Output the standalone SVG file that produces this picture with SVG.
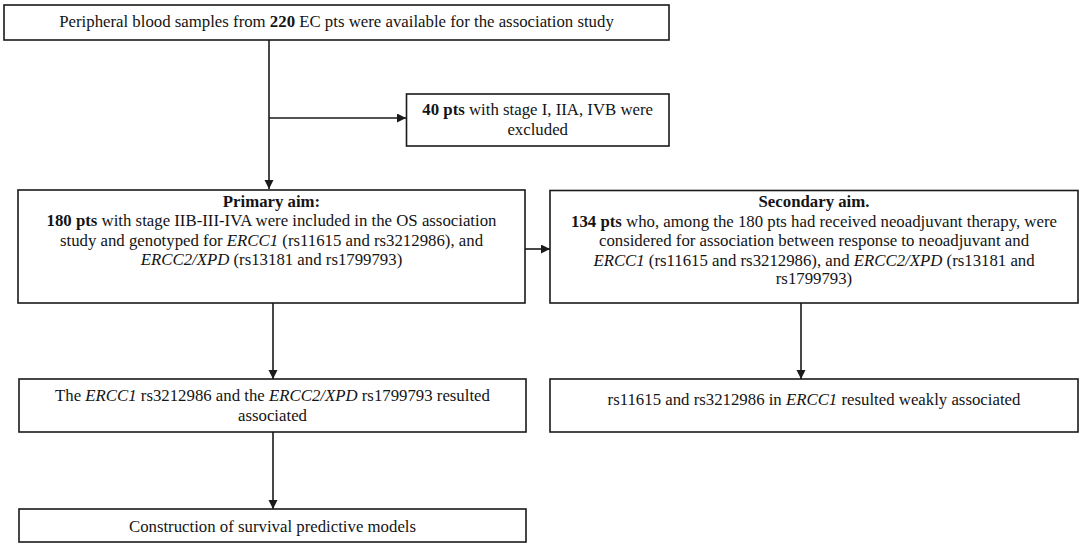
<svg xmlns="http://www.w3.org/2000/svg" width="1084" height="548" viewBox="0 0 1084 548">
<style>
.box{fill:#ffffff;stroke:#1a1a1a;stroke-width:1.6}
.t{font-family:"Liberation Serif","Times New Roman",serif;font-size:16.8px;fill:#141414;text-anchor:middle}
.b{font-weight:bold}
.i{font-style:italic}
.c{stroke:#1a1a1a;stroke-width:1.6;fill:none;marker-end:url(#ah)}
</style>
<defs>
<marker id="ah" markerUnits="userSpaceOnUse" markerWidth="10" markerHeight="10" refX="9" refY="4.5" orient="auto">
<path d="M0,0 L9,4.5 L0,9 z" fill="#1a1a1a"/>
</marker>
</defs>
<rect width="1084" height="548" fill="#ffffff"/>
<g id="connectors">
<line class="c" x1="269" y1="40" x2="269" y2="189"/>
<line class="c" x1="269" y1="118" x2="406" y2="118"/>
<line class="c" x1="525" y1="249" x2="550" y2="249"/>
<line class="c" x1="273" y1="303" x2="273" y2="379"/>
<line class="c" x1="273" y1="432" x2="273" y2="509"/>
<line class="c" x1="801" y1="303" x2="801" y2="379"/>
</g>
<g id="node-samples">
<rect class="box" x="4" y="5" width="665" height="35"/>
<text class="t" x="336.5" y="27">Peripheral blood samples from <tspan class="b">220</tspan> EC pts were available for the association study</text>
</g>
<g id="node-excluded">
<rect class="box" x="406.5" y="94" width="262.5" height="52"/>
<text class="t" x="537.7" y="115"><tspan class="b">40 pts</tspan> with stage I, IIA, IVB were</text>
<text class="t" x="537.7" y="135">excluded</text>
</g>
<g id="node-primary">
<rect class="box" x="18" y="190" width="507" height="113"/>
<text class="t b" x="271.5" y="207">Primary aim:</text>
<text class="t" x="271.5" y="226"><tspan class="b">180 pts</tspan> with stage IIB-III-IVA were included in the OS association</text>
<text class="t" x="271.5" y="245.5">study and genotyped for <tspan class="i">ERCC1</tspan> (rs11615 and rs3212986), and</text>
<text class="t" x="271.5" y="265"><tspan class="i">ERCC2/XPD</tspan> (rs13181 and rs1799793)</text>
</g>
<g id="node-secondary">
<rect class="box" x="550" y="190.5" width="528" height="112.5"/>
<text class="t b" x="814" y="207">Secondary aim.</text>
<text class="t" x="814" y="226.5"><tspan class="b">134 pts</tspan> who, among the 180 pts had received neoadjuvant therapy, were</text>
<text class="t" x="814" y="246">considered for association between response to neoadjuvant and</text>
<text class="t" x="814" y="265.5"><tspan class="i">ERCC1</tspan> (rs11615 and rs3212986), and <tspan class="i">ERCC2/XPD</tspan> (rs13181 and</text>
<text class="t" x="814" y="284">rs1799793)</text>
</g>
<g id="node-primary-result">
<rect class="box" x="19" y="379" width="507" height="53"/>
<text class="t" x="272.5" y="400.5">The <tspan class="i">ERCC1</tspan> rs3212986 and the <tspan class="i">ERCC2/XPD</tspan> rs1799793 resulted</text>
<text class="t" x="272.5" y="420.5">associated</text>
</g>
<g id="node-secondary-result">
<rect class="box" x="550" y="379" width="528" height="53"/>
<text class="t" x="814" y="405">rs11615 and rs3212986 in <tspan class="i">ERCC1</tspan> resulted weakly associated</text>
</g>
<g id="node-models">
<rect class="box" x="19" y="509" width="507" height="33"/>
<text class="t" x="272.5" y="531.5">Construction of survival predictive models</text>
</g>
</svg>
